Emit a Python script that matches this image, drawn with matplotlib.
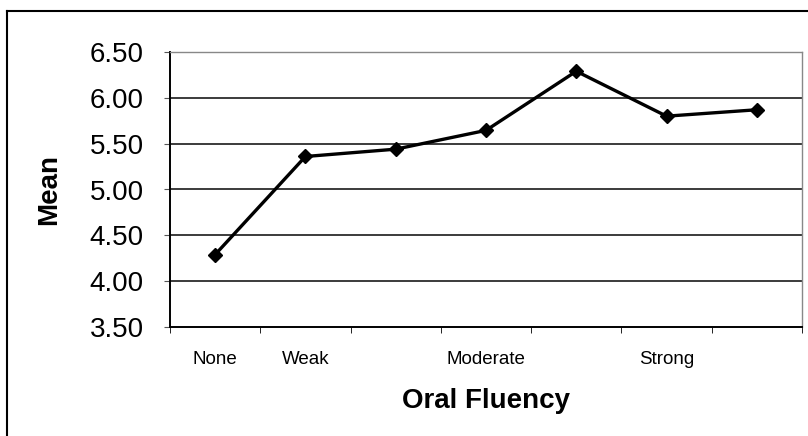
import matplotlib
matplotlib.use("Agg")
import matplotlib.pyplot as plt
from matplotlib.lines import Line2D

plt.rcParams['font.family'] = ['Liberation Sans', 'DejaVu Sans']

# groups on the x axis (only some carry a label)
categories = ["None", "Weak", "", "Moderate", "", "Strong", ""]
means = [4.29, 5.36, 5.44, 5.645, 6.29, 5.80, 5.87]
y_ticks = [3.50, 4.00, 4.50, 5.00, 5.50, 6.00, 6.50]

fig = plt.figure(figsize=(8.08, 4.36), dpi=100)
ax = fig.add_axes([170 / 808, 1 - 327 / 436, 632 / 808, 275 / 436])

x = list(range(len(means)))
ax.plot(x, means, color="black", lw=2.4, marker="D", ms=7.5,
        markerfacecolor="black", markeredgecolor="black", zorder=3)

ax.set_xlim(-0.5, len(means) - 0.5)
ax.set_ylim(3.5, 6.5)

ax.set_yticks(y_ticks)
ax.set_yticklabels([f"{v:.2f}" for v in y_ticks], fontsize=20)
for v in y_ticks[1:-1]:
    ax.axhline(v, color="#1a1a1a", lw=1.2, zorder=1)

# category labels centered, tick marks between categories
ax.set_xticks(x)
ax.set_xticklabels(categories, fontsize=13.5)
ax.tick_params(axis="x", length=0, pad=17)
ax.set_xticks([i + 0.5 for i in range(-1, len(means))], minor=True)
ax.tick_params(axis="x", which="minor", length=4, direction="out", color="black")
ax.tick_params(axis="y", length=4, direction="out", pad=15, color="#555555")

for side in ["top", "right"]:
    ax.spines[side].set_color("#888888")
    ax.spines[side].set_linestyle((0, (2, 1)))
    ax.spines[side].set_linewidth(1)
ax.spines["left"].set_linewidth(1.4)
ax.spines["bottom"].set_linewidth(1.4)

ax.set_xlabel("Oral Fluency", fontsize=20, fontweight="bold", labelpad=15)
ax.set_ylabel("Mean", fontsize=20, fontweight="bold", labelpad=20)

# frame around the whole chart (right and bottom edges fall outside)
fig.add_artist(Line2D([7 / 808, 7 / 808], [-0.1, 1 - 11 / 436],
                      transform=fig.transFigure, color="black", lw=1.5))
fig.add_artist(Line2D([7 / 808, 1.1], [1 - 11 / 436, 1 - 11 / 436],
                      transform=fig.transFigure, color="black", lw=1.5))

fig.savefig("out.png", dpi=100)
